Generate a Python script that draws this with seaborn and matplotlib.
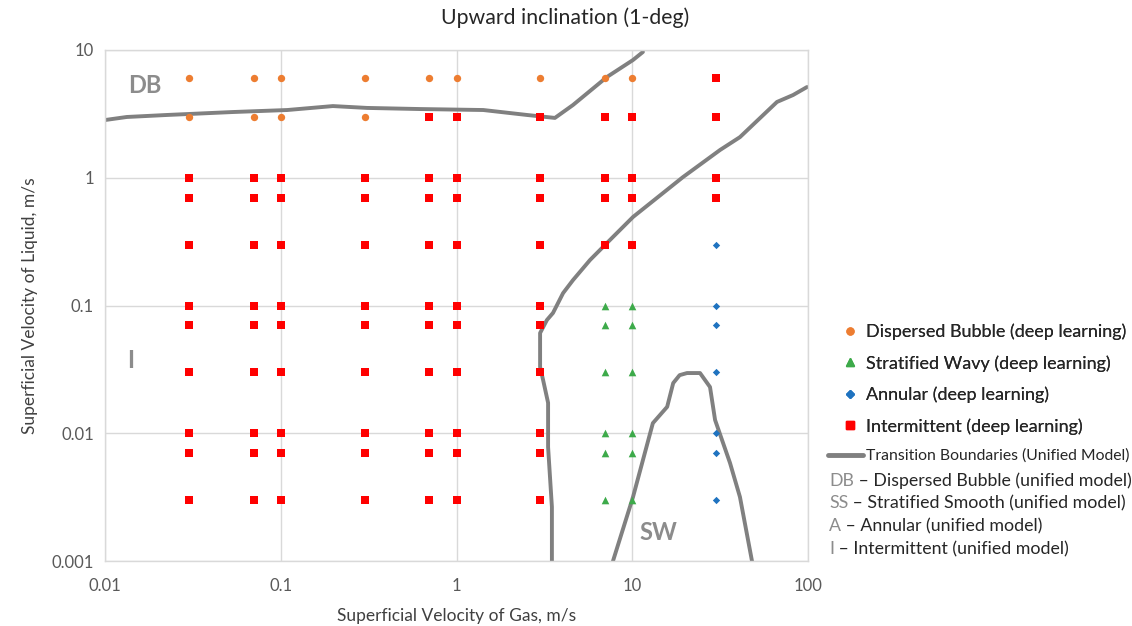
import numpy as np
import pandas as pd
import matplotlib.pyplot as plt
import seaborn as sns
from matplotlib.lines import Line2D

# Test grid (superficial velocities, m/s)
gas_v = [0.03, 0.07, 0.1, 0.3, 0.7, 1, 3, 7, 10, 30]
liquid_v = [6, 3, 1, 0.7, 0.3, 0.1, 0.07, 0.03, 0.01, 0.007, 0.003]

# Deep-learning regime per grid cell (rows = liquid_v, cols = gas_v)
# D = dispersed bubble, S = stratified wavy, A = annular, I = intermittent
regime_rows = [
    "DDDDDDDDDI",
    "DDDDIIIIII",
    "IIIIIIIIII",
    "IIIIIIIIII",
    "IIIIIIIIIA",
    "IIIIIIISSA",
    "IIIIIIISSA",
    "IIIIIIISSA",
    "IIIIIIISSA",
    "IIIIIIISSA",
    "IIIIIIISSA",
]

# Unified model transition boundaries
db_x = [0.01, 0.0133, 0.0225, 0.0535, 0.109, 0.198, 0.31, 0.62, 1.42, 2.52, 3.63, 4.6, 7.18, 10.1, 11.5]
db_y = [2.83, 2.99, 3.10, 3.27, 3.39, 3.64, 3.52, 3.45, 3.39, 3.10, 2.94, 3.71, 6.15, 8.35, 9.65]

an_x = [98.7, 82.2, 66.6, 41.0, 31.6, 19.4, 10.1, 7.77, 5.75, 4.6, 4.04, 3.54, 3.27, 2.99, 2.99, 3.11, 3.32, 3.32, 3.49, 3.49]
an_y = [5.13, 4.44, 3.92, 2.08, 1.65, 1.01, 0.493, 0.344, 0.227, 0.158, 0.125, 0.0874, 0.077, 0.0609, 0.033, 0.0261, 0.0173, 0.0078, 0.00265, 0.001]

sw_x = [7.77, 10.1, 13.1, 15.8, 17.1, 18.6, 20.5, 24.3, 27.7, 29.6, 36.0, 41.0, 48.0]
sw_y = [0.001, 0.00317, 0.0120, 0.0161, 0.0247, 0.0285, 0.0296, 0.0296, 0.023, 0.0127, 0.00585, 0.00317, 0.001]

x_ticks = [0.01, 0.1, 1, 10, 100]
x_tick_labels = ["0.01", "0.1", "1", "10", "100"]
y_ticks = [0.001, 0.01, 0.1, 1, 10]
y_tick_labels = ["0.001", "0.01", "0.1", "1", "10"]

# Build long-form table
records = []
for i, yl in enumerate(liquid_v):
    for j, xg in enumerate(gas_v):
        records.append({"vsg": xg, "vsl": yl, "regime": regime_rows[i][j]})
df = pd.DataFrame(records)

styles = {
    "D": dict(label="Dispersed Bubble (deep learning)", marker="o", color="#ED7D31", s=28),
    "S": dict(label="Stratified Wavy (deep learning)", marker="^", color="#3DAA4A", s=30),
    "A": dict(label="Annular (deep learning)", marker="D", color="#1F73C0", s=14),
    "I": dict(label="Intermittent (deep learning)", marker="s", color="#FF0000", s=36),
}
line_color = "#808080"
gray_txt = "#8C8C8C"
dark_txt = "#262626"
fams = ['Lato', 'DejaVu Sans']

sns.set_theme(style="white")
plt.rcParams['font.family'] = fams

fig = plt.figure(figsize=(11.32, 6.26), dpi=100)
ax = fig.add_axes([105 / 1132, 1 - 561 / 626, 703 / 1132, 511 / 626])

# Boundaries
for bx, by in [(db_x, db_y), (an_x, an_y), (sw_x, sw_y)]:
    sns.lineplot(x=bx, y=by, sort=False, estimator=None, color=line_color, lw=2.8, ax=ax, zorder=2)

# Points
for key in ["D", "S", "A", "I"]:
    st = styles[key]
    sub = df[df["regime"] == key]
    sns.scatterplot(data=sub, x="vsg", y="vsl", marker=st["marker"], color=st["color"],
                    s=st["s"], linewidth=0, ax=ax, zorder=3, legend=False)

ax.set_xscale("log")
ax.set_yscale("log")
ax.set_xlim(0.01, 100)
ax.set_ylim(0.001, 10)
ax.set_xticks(x_ticks)
ax.set_xticklabels(x_tick_labels)
ax.set_yticks(y_ticks)
ax.set_yticklabels(y_tick_labels)
ax.minorticks_off()
ax.tick_params(axis="both", length=0, labelsize=12, labelcolor="#595959")
ax.tick_params(axis="x", pad=12.5)
ax.tick_params(axis="y", pad=8)
ax.grid(True, which="major", color="#D9D9D9", lw=1)
for sp in ax.spines.values():
    sp.set_color("#D9D9D9")
    sp.set_linewidth(1)

ax.set_xlabel("Superficial Velocity of Gas, m/s", fontsize=12.5, color="#404040", labelpad=10)
ax.set_ylabel("Superficial Velocity of Liquid, m/s", fontsize=12.5, color="#404040", labelpad=10)

# Region labels
ax.text(0.0169, 5.32, "DB", fontsize=17, fontweight="bold", color=gray_txt, ha="center", va="center")
ax.text(0.0139, 0.0374, "I", fontsize=17, fontweight="bold", color=gray_txt, ha="center", va="center")
ax.text(14.0, 0.00166, "SW", fontsize=17, fontweight="bold", color=gray_txt, ha="center", va="center")

fig.suptitle("Upward inclination (1-deg)", x=565 / 1132, y=1 - 18 / 626, va="center", fontsize=15.3, color=dark_txt)

# Legend: deep learning markers
handles = [Line2D([], [], ls="", marker=styles[k]["marker"], color=styles[k]["color"],
                  markersize={"D": 5, "S": 5.5, "A": 4, "I": 6}[k]) for k in ["D", "S", "A", "I"]]
labels = [styles[k]["label"] for k in ["D", "S", "A", "I"]]
leg1 = ax.legend(handles, labels, loc="center left", bbox_to_anchor=(841 / 1132, 1 - 379 / 626),
                 bbox_transform=fig.transFigure, frameon=False,
                 prop=dict(family=fams, weight="normal", size=13), handlelength=1.0,
                 handletextpad=0.4, labelspacing=0.83, borderaxespad=0, borderpad=0)
for t in leg1.get_texts():
    t.set_color(dark_txt)
ax.add_artist(leg1)

leg2 = fig.legend([Line2D([], [], color=line_color, lw=3.5)], ["Transition Boundaries (Unified Model)"],
                  loc="center left", bbox_to_anchor=(828 / 1132, 1 - 456 / 626), frameon=False,
                  prop=dict(family=fams, weight="normal", size=11.3), handlelength=2.2,
                  handletextpad=0.2, borderaxespad=0, borderpad=0)
for t in leg2.get_texts():
    t.set_color(dark_txt)

# Unified model abbreviations
abbr_rows = [("DB", " \u2013 Dispersed Bubble (unified model)", 481),
             ("SS", " \u2013 Stratified Smooth (unified model)", 503),
             ("A", " \u2013 Annular (unified model)", 526),
             ("I", " \u2013 Intermittent (unified model)", 549)]
for abbr, rest, ypx in abbr_rows:
    t = fig.text(829 / 1132, 1 - ypx / 626, abbr, fontsize=12.8, color=gray_txt, va="center", ha="left")
    ax.annotate(rest, xy=(1, 0.5), xycoords=t, va="center", ha="left", fontsize=12.8, color=dark_txt,
                annotation_clip=False)

fig.savefig("out.png", dpi=100)
